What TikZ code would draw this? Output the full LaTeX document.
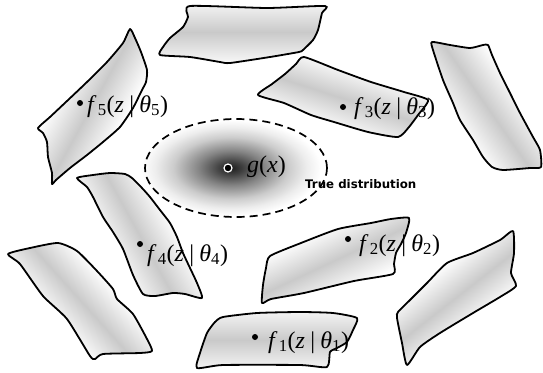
\documentclass[tikz,border=0pt]{standalone}
\usepackage{fontspec}
\setmainfont{Liberation Serif}
\newfontfamily\labfont{Liberation Serif}
\newfontfamily\truefont{DejaVu Sans}
\pgfdeclareradialshading{gshade}{\pgfpoint{0bp}{0bp}}{color(0bp)=(black!88); color(3bp)=(black!76); color(9bp)=(black!48); color(16bp)=(black!20); color(21bp)=(black!7); color(25bp)=(white); color(50bp)=(white)}
\tikzset{
  leafline/.style={draw=black, line width=1.8pt, line join=round},
  fdot/.style={circle, fill=black, inner sep=0pt, minimum size=6pt},
  flabel/.style={anchor=base west, inner sep=0pt, font=\labfont\fontsize{24}{28}\selectfont},
  truelabel/.style={anchor=base west, inner sep=0pt, font=\truefont\bfseries\fontsize{11.8}{14}\selectfont},
  distline/.style={draw=black, line width=1.7pt, dash pattern=on 8pt off 5pt},
}
\newcommand\leafshape[4]{%
  \begin{scope}
    \clip plot[smooth cycle, tension=0.35] coordinates {#1};
    \shade[transform canvas={shift={(#2)},rotate=#3}, top color=white, bottom color=white, middle color=black!21] (-220pt,-#4) rectangle (220pt,#4);
  \end{scope}
  \draw[leafline] plot[smooth cycle, tension=0.35] coordinates {#1};
}
\newcommand\flab[1]{\textit{f}\kern0.05em\textsubscript{#1}(\textit{z}\hspace{0.22em}|\hspace{0.22em}\textit{θ}\textsubscript{#1})}
\begin{document}
\begin{tikzpicture}[x=1pt,y=-1pt]
\useasboundingbox (0,0) rectangle (543,372);
% top shape
\leafshape{(190,6) (267,8) (325,6) (322,13) (318,30) (313,40) (303,50) (299,52) (270,57) (230,63) (220,62) (190,57) (160,55) (163,47) (170,38) (183,27) (188,17)}{242,32}{0}{36pt}
% f5 shape
\leafshape{(130,29) (135,38) (141,52) (147,70) (146,82) (142,90) (133,108) (120,127) (103,142) (87,155) (70,168) (56,180) (52,184) (52,173) (48,157) (47,142) (43,133) (38,128) (50,117) (67,101) (87,82) (107,62) (123,43)}{92,105}{61}{36pt}
% f3 shape
\leafshape{(304,57) (338,70) (371,82) (404,92) (428,100) (418,115) (409,127) (398,137) (368,132) (334,122) (311,115) (284,103) (258,95) (272,84) (285,74) (296,64)}{342,98}{-18}{34pt}
% right top shape
\leafshape{(432,42) (450,45) (470,48) (483,45) (488,45) (492,55) (500,73) (510,93) (520,113) (533,137) (540,150) (541,167) (530,168) (503,170) (492,167) (483,157) (473,140) (460,120) (453,103) (443,80) (433,50)}{487,107}{-55}{36pt}
% f4 shape
\leafshape{(77,178) (93,175) (110,173) (125,174) (132,178) (142,188) (150,197) (160,210) (170,223) (177,237) (183,253) (190,268) (197,283) (202,298) (185,294) (173,293) (155,296) (143,294) (133,275) (123,249) (113,232) (103,217) (93,197) (87,187)}{140,236}{-61}{36pt}
% left bottom shape
\leafshape{(8,254) (30,248) (58,243) (77,251) (97,271) (113,289) (117,299) (133,314) (147,339) (152,351) (140,353) (103,354) (95,359) (90,356) (67,319) (43,296) (20,264)}{80,300}{-48}{34pt}
% f2 shape
\leafshape{(270,256) (301,243) (338,229) (371,223) (391,219) (409,218) (406,233) (401,244) (396,253) (394,264) (393,274) (354,281) (304,293) (271,299) (262,303) (263,285) (266,268)}{335,260}{25}{34pt}
% right bottom shape
\leafshape{(398,312) (410,300) (427,283) (447,263) (473,253) (500,240) (513,231) (514,253) (511,273) (516,286) (500,297) (473,313) (440,333) (420,347) (407,365) (402,343) (397,318)}{455,298}{38}{34pt}
% f1 shape
\leafshape{(215,322) (223,317) (257,313) (300,312) (333,313) (357,318) (353,330) (347,342) (337,348) (330,352) (327,367) (300,365) (223,365) (197,368) (200,353) (207,333)}{276,340}{0}{36pt}
% true distribution
\shade[shading=gshade] (231,168) ellipse [x radius=90pt, y radius=48pt];
\node[truelabel] (ltrue) at (305,188) {True distribution};
\draw[distline] (236,168) ellipse [x radius=91pt, y radius=49pt];
\node[circle, fill=black, draw=white, line width=1.2pt, inner sep=0pt, minimum size=8pt] (dg) at (228,168) {};
\node[flabel] (lg) at (247,172) {\textit{g}(\textit{x})};
% dots and labels
\node[fdot] (d5) at (80,103) {};
\node[flabel] (l5) at (87,112) {\flab{5}};
\node[fdot] (d3) at (343,107) {};
\node[flabel] (l3) at (354,114) {\flab{3}};
\node[fdot] (d4) at (140,244) {};
\node[flabel] (l4) at (147,261) {\flab{4}};
\node[fdot] (d2) at (348,239) {};
\node[flabel] (l2) at (359,251) {\flab{2}};
\node[fdot] (d1) at (255,337) {};
\node[flabel] (l1) at (268,348) {\flab{1}};
\end{tikzpicture}
\end{document}
